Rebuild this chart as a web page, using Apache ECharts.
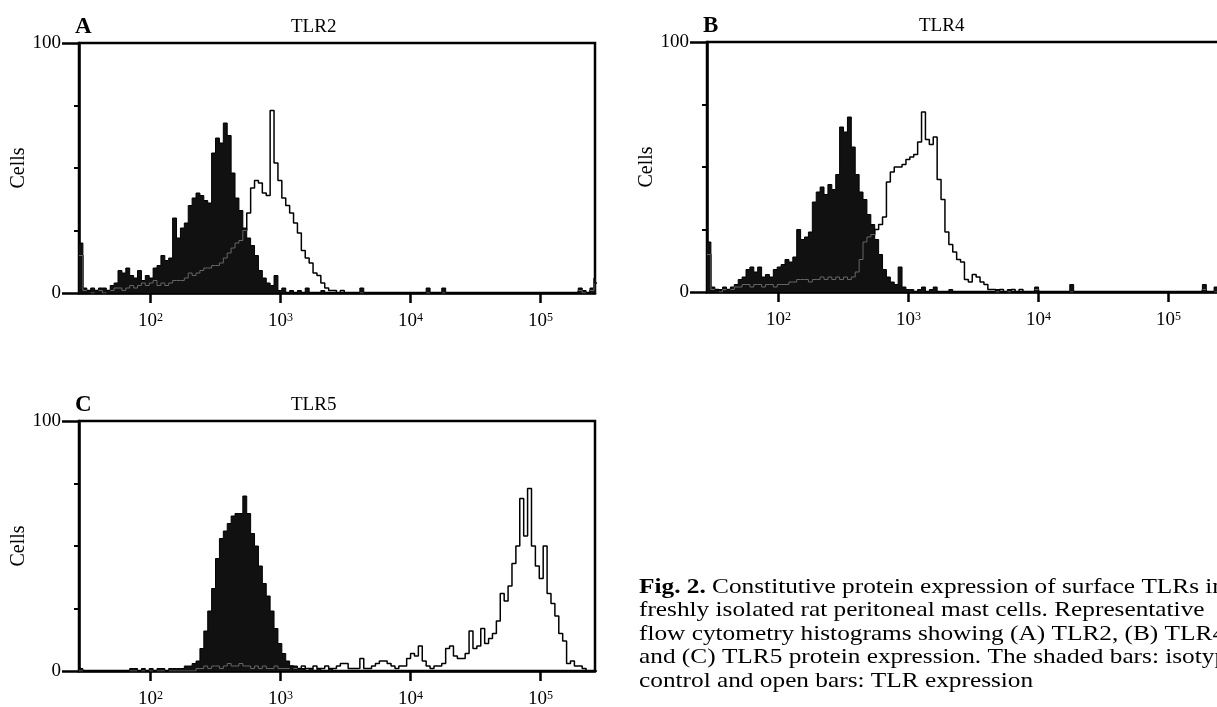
<!DOCTYPE html>
<html><head><meta charset="utf-8">
<script src="https://cdn.jsdelivr.net/npm/echarts@6/dist/echarts.min.js"></script>
<style>html,body{margin:0;padding:0;background:#fff}#c{width:1217px;height:707px}</style>
</head><body><div id="c"></div>
<script>
// ---- data ----
const LOG_MIN = 1.45, LOG_MAX = 5.4185;      // axis range in log10(fluorescence)
const BIN_START = 1.45, BIN_WIDTH = 0.03;    // histogram channel grid (log10 units)
const decadeTicks = [2, 3, 4, 5];            // 10^2 ... 10^5
const yTicks = [0, 100];
const panelLetters = ['A', 'B', 'C'];
const panelTitles = ['TLR2', 'TLR4', 'TLR5'];
const yName = 'Cells';

const isotypeA = [
 20,2,1,2,1,2,2,1,3,4, 9,8,10,7,6,9,5,7,6,10, 11,15,13,14,30,22,26,28,35,38,
 40,39,37,36,56,62,60,68,63,48, 38,33,26,22,19,15,9,6,4,3, 7,1,2,0,1,0,1,0,2,0,
 0,0,1,0,0,0,0,0,0,0, 0,0,2,0,0,0,0,0,0,0, 0,0,0,0,0,0,0,0,0,2, 0,0,0,2,0,0,0,0,0,0,
 0,0,0,0,0,0,0,0,0,0, 0,0,0,0,0,0,0,0,0,0, 0,0,0,0,0,0,0,0,2,1, 0,2,6];
const tlr2 = [
 15,1,1,0,1,1,0,1,1,2, 2,1,2,3,2,3,4,3,4,5, 3,4,3,4,5,5,5,6,8,7,
 8,9,10,10,11,11,12,14,16,18, 20,21,25,32,42,45,44,40,39,73, 52,45,38,35,32,28,24,17,14,12,
 8,7,4,2,1,1,0,1,0,0, 0,0,0,0,0,0,0,0,0,0, 0,0,0,0,0,0,0,0,0,0, 0,0,0,0,0,0,0,0,0,0,
 0,0,0,0,0,0,0,0,0,0, 0,0,0,0,0,0,0,0,0,0, 0,0,0,0,0,0,0,0,1,0, 0,1,4];
const isotypeB = [
 20,2,1,1,2,1,2,3,5,6, 9,10,8,10,6,7,6,9,10,11, 13,12,14,25,21,22,24,36,40,42,
 39,43,41,47,66,64,70,58,47,40, 37,31,27,21,15,9,6,4,3,10, 2,1,1,0,1,2,0,1,2,0,
 0,0,1,0,0,0,0,0,0,0, 0,0,0,0,1,0,0,1,0,0, 0,0,0,0,2,0,0,0,0,0, 0,0,0,3,0,0,0,0,0,0,
 0,0,0,0,0,0,0,0,0,0, 0,0,0,0,0,0,0,0,0,0, 0,0,0,0,0,0,0,3,0,0, 2,3,1];
const tlr4 = [
 15,1,1,0,1,1,1,2,2,3, 3,2,3,3,2,3,3,2,3,3, 3,4,4,5,5,5,4,5,5,6,
 5,6,5,6,5,6,5,6,8,13, 20,22,23,25,27,30,44,48,50,50, 51,53,54,55,60,72,61,59,62,45,
 37,24,19,16,13,12,5,4,7,6, 4,3,1,1,0,1,0,0,1,0, 1,0,0,0,1,0,0,0,0,0, 0,0,0,0,0,0,0,0,0,0,
 0,0,0,0,0,0,0,0,0,0, 0,0,0,0,0,0,0,0,0,0, 0,0,0,0,0,0,0,1,0,0, 0,1,0];
const isotypeC = [
 1,0,0,0,0,0,0,0,0,0, 0,0,0,1,1,0,1,0,1,0, 1,1,0,1,1,1,1,2,2,3,
 4,9,16,24,33,45,53,56,59,62, 63,63,70,63,55,50,42,35,30,24, 17,11,7,4,2,2,1,1,0,1,
 0,1,0,0,1,0,0,0,0,0, 0,0,0,0,0,0,0,0,0,0, 0,0,0,0,0,0,0,0,0,0, 0,0,0,0,0,0,0,0,0,0,
 0,0,0,0,0,0,0,0,0,0, 0,0,0,0,0,0,0,0,0,0, 0,0,0,0,0,0,0,0,0,0, 0,0,0];
const tlr5 = [
 0,0,0,0,0,0,0,0,0,0, 0,0,0,0,0,0,0,0,0,0, 0,0,0,0,0,0,0,0,0,0,
 1,1,2,1,2,2,1,2,3,2, 2,3,2,2,1,2,1,2,1,1, 2,1,1,1,2,1,1,2,1,1,
 2,1,1,2,1,1,2,3,3,1, 1,1,5,1,1,2,3,4,4,3, 2,1,2,2,5,7,6,10,4,2, 1,2,2,3,9,10,6,5,5,7,
 16,9,10,17,11,13,15,20,31,28, 34,43,50,69,54,73,50,42,37,50, 31,27,22,15,12,3,4,2,2,1, 0,0,0];
const captionLines = [
 ['Fig. 2.', ' Constitutive protein expression of surface TLRs in'],
 ['', 'freshly isolated rat peritoneal mast cells. Representative'],
 ['', 'flow cytometry histograms showing (A) TLR2, (B) TLR4'],
 ['', 'and (C) TLR5 protein expression. The shaded bars: isotype'],
 ['', 'control and open bars: TLR expression']
];

// ---- layout ----
const FONT = 'Liberation Serif';
const grids = [
  {left: 79, top: 43, width: 516, height: 250},
  {left: 707, top: 42, width: 516, height: 250},
  {left: 79, top: 421, width: 516, height: 250}
];
const panels = [[isotypeA, tlr2], [isotypeB, tlr4], [isotypeC, tlr5]];

function toSteps(counts) {
  const pts = counts.map((c, i) => [BIN_START + i * BIN_WIDTH, c]);
  pts.push([BIN_START + counts.length * BIN_WIDTH, counts[counts.length - 1]]);
  return pts;
}
function maskBelow(open, shaded) {
  return open.map((c, i) => [BIN_START + i * BIN_WIDTH, c < shaded[i] ? c : '-']);
}

const option = {
  animation: false,
  backgroundColor: '#fff',
  grid: grids.map(g => Object.assign({show: true, borderColor: '#000', borderWidth: 2.5,
    backgroundColor: 'transparent', containLabel: false, outerBoundsMode: 'none'}, g)),
  xAxis: grids.map((g, k) => ({
    type: 'value', gridIndex: k, min: LOG_MIN, max: LOG_MAX,
    axisLine: {show: true, onZero: false, lineStyle: {color: '#000', width: 2.5}},
    axisTick: {show: true, customValues: decadeTicks, length: 10, lineStyle: {color: '#000', width: 2.5}},
    axisLabel: {customValues: decadeTicks, margin: 19,
      formatter: v => '{b|10}{s|' + v + '}',
      rich: {b: {fontFamily: FONT, fontSize: 19, color: '#000'},
             s: {fontFamily: FONT, fontSize: 12, color: '#000', verticalAlign: 'top', lineHeight: 10}}},
    splitLine: {show: false}
  })),
  yAxis: grids.map((g, k) => ({
    type: 'value', gridIndex: k, min: 0, max: 100, interval: 100,
    axisLine: {show: true, lineStyle: {color: '#000', width: 2.5}},
    axisTick: {show: true, customValues: yTicks, length: 17, lineStyle: {color: '#000', width: 2.5}},
    minorTick: {show: true, splitNumber: 4, length: 5, lineStyle: {color: '#000', width: 2}},
    axisLabel: {customValues: yTicks, margin: 18, fontFamily: FONT, fontSize: 19, color: '#000'},
    splitLine: {show: false},
    name: yName, nameLocation: 'middle', nameGap: 50, nameRotate: 90,
    nameTextStyle: {fontFamily: FONT, fontSize: 20, color: '#000'}
  })),
  title: [].concat(
    grids.map((g, k) => ({text: panelLetters[k], left: g.left - 9, top: g.top - 32,
      textStyle: {fontFamily: FONT, fontSize: 23, fontWeight: 'bold', color: '#000'}})),
    grids.map((g, k) => ({text: panelTitles[k], left: g.left + 207, top: g.top - 30,
      textStyle: {fontFamily: FONT, fontSize: 19, fontWeight: 'normal', color: '#000'}}))
  ),
  graphic: captionLines.map((ln, j) => ({
    type: 'text', x: 639, y: 576 + j * 23.5, scaleX: 1.15,
    style: {text: (ln[0] ? '{bb|' + ln[0] + '}' : '') + '{n|' + ln[1] + '}',
      rich: {bb: {fontFamily: FONT, fontSize: 22, fontWeight: 'bold', fill: '#000'},
             n: {fontFamily: FONT, fontSize: 22, fill: '#000'}}}
  })),
  series: []
};

panels.forEach((p, k) => {
  const [shaded, open] = p;
  option.series.push({
    type: 'line', xAxisIndex: k, yAxisIndex: k, step: 'end', symbol: 'none', z: 2,
    data: toSteps(open), lineStyle: {color: '#000', width: 1.5}
  });
  option.series.push({
    type: 'line', xAxisIndex: k, yAxisIndex: k, step: 'end', symbol: 'none', z: 3,
    data: toSteps(shaded), lineStyle: {color: '#000', width: 1},
    areaStyle: {color: '#111', opacity: 1}
  });
  option.series.push({
    type: 'line', xAxisIndex: k, yAxisIndex: k, step: 'end', symbol: 'none', z: 4,
    connectNulls: false, data: maskBelow(open, shaded), lineStyle: {color: '#666', width: 1}
  });
});

const chart = echarts.init(document.getElementById('c'), null, {renderer: 'canvas'});
chart.setOption(option);
</script>
</body></html>
